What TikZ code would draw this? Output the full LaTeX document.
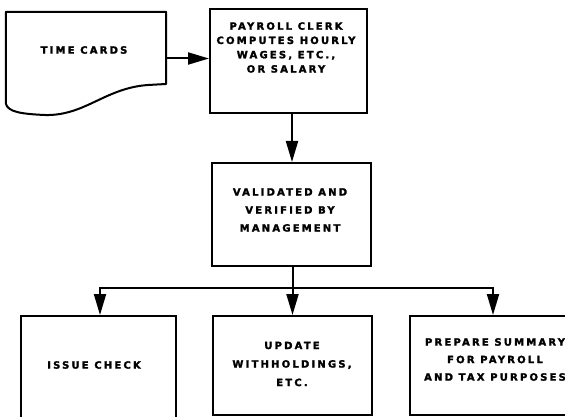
\documentclass[tikz,border=0pt]{standalone}
\usepackage{fontspec}
\setmainfont{DejaVu Sans}[LetterSpace=22, BoldFeatures={FakeBold=2}]
\usetikzlibrary{arrows.meta}
\tikzset{
  box/.style={draw, line width=2pt, minimum width=#1, inner sep=0pt},
  lbl/.style={align=center, font=\bfseries\fontsize{10}{15}\selectfont, inner sep=0pt},
  flow/.style={line width=2pt, -{Triangle[length=21pt,width=12pt]}},
  wire/.style={line width=2pt},
}
\begin{document}
\begin{tikzpicture}[x=1pt,y=-1pt]
\useasboundingbox (0,0) rectangle (565,417);
\clip (0,0) rectangle (565,417);

% source document: time cards
\node[inner sep=0pt, minimum width=160pt, minimum height=93pt] (tc) at (86,58.5) {};
\draw[line width=2pt, line join=round]
  (tc.north west) -- (tc.north east) -- (166,84) -- (148,85)
  .. controls (105,88) and (85,116) .. (45,115)
  .. controls (22,114) and (8,112) .. (6,104) -- cycle;
\node[lbl] (tct) at (84,50) {TIME CARDS};

% processing boxes
\node[box=157pt, minimum height=104pt] (pay) at (288.5,61) {};
\node[lbl, font=\bfseries\fontsize{10}{14.3}\selectfont] (payt) at (286,47.5) {PAYROLL CLERK\\COMPUTES HOURLY\\WAGES, ETC.,\\OR SALARY};

\node[box=159pt, minimum height=103pt] (val) at (291.5,214.5) {};
\node[lbl, font=\bfseries\fontsize{10}{18}\selectfont] (valt) at (290,210) {VALIDATED AND\\VERIFIED BY\\MANAGEMENT};

% outputs
\node[box=155pt, minimum height=112pt] (iss) at (98.5,372) {};
\node[lbl] (isst) at (94,365) {ISSUE CHECK};

\node[box=159pt, minimum height=99pt] (upd) at (292.5,365.5) {};
\node[lbl, font=\bfseries\fontsize{10}{18.5}\selectfont] (updt) at (292,364) {UPDATE\\WITHHOLDINGS,\\ETC.};

\node[box=165pt, minimum height=99pt] (prep) at (492.5,365.5) {};
\node[lbl, font=\bfseries\fontsize{10}{17.5}\selectfont] (prept) at (495,359.5) {PREPARE SUMMARY\\FOR PAYROLL\\AND TAX PURPOSES};

% connectors
\coordinate (split) at (292.5,288);
\draw[flow] (tc.east) -- (tc.east -| pay.west);
\draw[flow] (pay.south -| 292,0) -- (val.north -| 292,0);
\draw[wire] (val.south -| split) -- (split);
\draw[wire] (split -| 99,0) -- (split -| 494,0);
\draw[flow] (split -| 100,0) -- (iss.north -| 100,0);
\draw[flow] (split) -- (upd.north -| split);
\draw[flow] (split -| 493,0) -- (prep.north -| 493,0);
\end{tikzpicture}
\end{document}
